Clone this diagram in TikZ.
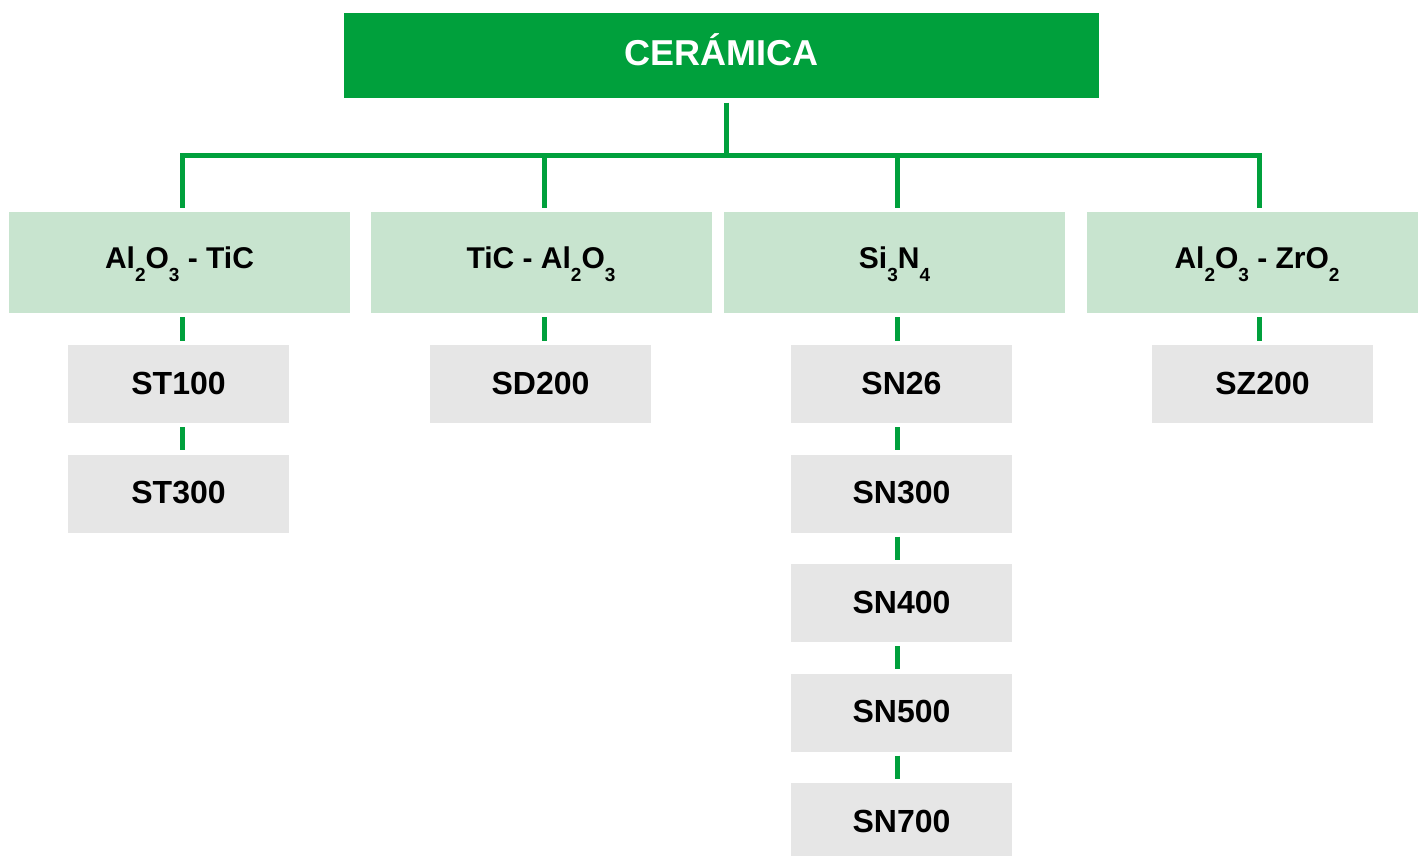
\documentclass[tikz,border=0pt]{standalone}
\usepackage{fontspec}
\setmainfont{Liberation Sans}
\definecolor{gDark}{HTML}{00A03C}
\definecolor{gLight}{HTML}{C8E4CF}
\definecolor{gGray}{HTML}{E6E6E6}
\newcommand\chemsub[1]{\raisebox{-0.46em}{\fontsize{19}{19}\selectfont #1}}
\begin{document}
\begin{tikzpicture}[x=1pt,y=-1pt,
  topbox/.style={fill=gDark,draw=none,minimum width=755pt,minimum height=85.5pt,inner sep=0pt,
    text=white,font=\fontsize{36}{36}\selectfont\bfseries,text height=26pt,text depth=7pt},
  catbox/.style={fill=gLight,draw=none,minimum width=341pt,minimum height=101pt,inner sep=0pt,
    font=\fontsize{30}{30}\selectfont\bfseries,text height=20pt,text depth=9pt},
  subbox/.style={fill=gGray,draw=none,minimum width=221pt,minimum height=78pt,inner sep=0pt,
    font=\fontsize{32}{32}\selectfont\bfseries,text height=23pt,text depth=3pt},
  conn/.style={draw=gDark,line width=5pt},
  link/.style={conn,shorten <=4pt,shorten >=4pt}]
\useasboundingbox (0,0) rectangle (1418,856);
% top
\node[topbox] (top) at (721.5,55.75) {CERÁMICA};
% categories
\node[catbox] (c1) at (179.5,262.5) {Al\chemsub{2}O\chemsub{3} - TiC};
\node[catbox] (c2) at (541,262.5) {TiC - Al\chemsub{2}O\chemsub{3}};
\node[catbox] (c3) at (894.5,262.5) {Si\chemsub{3}N\chemsub{4}};
\node[catbox] (c4) at (1257,262.5) {Al\chemsub{2}O\chemsub{3} - ZrO\chemsub{2}};
% products
\node[subbox] (st100) at (178.5,384) {ST100};
\node[subbox] (st300) at (178.5,493.5) {ST300};
\node[subbox] (sd200) at (540.5,384) {SD200};
\node[subbox] (sn26) at (901.5,384) {SN26};
\node[subbox] (sn300) at (901.5,493.5) {SN300};
\node[subbox] (sn400) at (901.5,603) {SN400};
\node[subbox] (sn500) at (901.5,712.5) {SN500};
\node[subbox] (sn700) at (901.5,822) {SN700};
\node[subbox] (sz200) at (1262.5,384) {SZ200};
% tree connectors
\coordinate (bus) at (726.5,155.5);
\draw[conn,shorten <=4pt] (top.south -| bus) -- (bus);
\draw[conn] ([xshift=3pt,yshift=4pt]c1.north) |- (bus) -| ([xshift=2pt,yshift=4pt]c4.north);
\draw[conn,shorten >=4pt] ([xshift=3pt]c2.north |- bus) -- ([xshift=3pt]c2.north);
\draw[conn,shorten >=4pt] ([xshift=2.5pt]c3.north |- bus) -- ([xshift=2.5pt]c3.north);
% chain connectors
\draw[link] ([xshift=3pt]c1.south) -- ([xshift=3pt]c1.south |- st100.north);
\draw[link] ([xshift=4pt]st100.south) -- ([xshift=4pt]st300.north);
\draw[link] ([xshift=3pt]c2.south) -- ([xshift=3pt]c2.south |- sd200.north);
\draw[link] ([xshift=2.5pt]c3.south) -- ([xshift=2.5pt]c3.south |- sn26.north);
\draw[link] ([xshift=-4.5pt]sn26.south) -- ([xshift=-4.5pt]sn300.north);
\draw[link] ([xshift=-4.5pt]sn300.south) -- ([xshift=-4.5pt]sn400.north);
\draw[link] ([xshift=-4.5pt]sn400.south) -- ([xshift=-4.5pt]sn500.north);
\draw[link] ([xshift=-4.5pt]sn500.south) -- ([xshift=-4.5pt]sn700.north);
\draw[link] ([xshift=2pt]c4.south) -- ([xshift=2pt]c4.south |- sz200.north);
\end{tikzpicture}
\end{document}
